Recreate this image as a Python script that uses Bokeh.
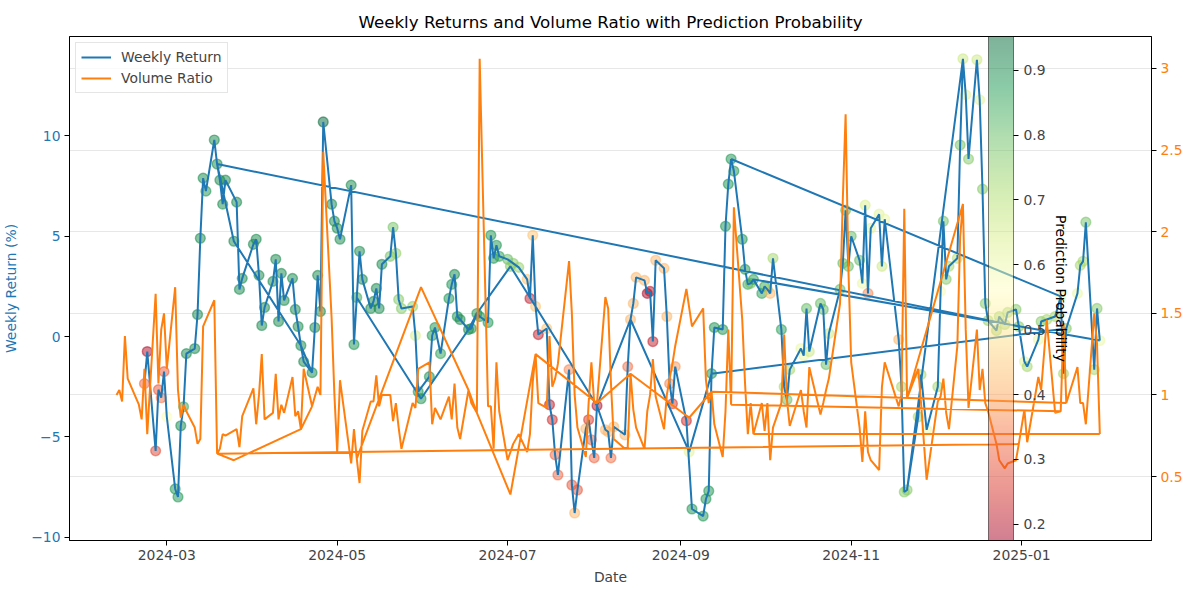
import numpy as np
import pandas as pd
from bokeh.plotting import figure
from bokeh.models import (Range1d, LinearAxis, FixedTicker, DatetimeTickFormatter, Grid,
                          LinearColorMapper, ColorBar, Label, ColumnDataSource,
                          CustomJSTickFormatter)
from bokeh.embed import file_html
from bokeh.resources import INLINE

nan = float("nan")

# ---------------- data ----------------
dates = [
    "2024-02-12", "2024-02-13", "2024-02-14", "2024-02-15", "2024-02-16", "2024-02-20", "2024-02-21",
    "2024-02-22", "2024-02-23", "2024-02-26", "2024-02-27", "2024-02-28", "2024-02-29",
    "2024-03-01", "2024-03-04", "2024-03-05", "2024-03-06", "2024-03-07", "2024-03-08", "2024-03-11",
    "2024-03-12", "2024-03-13", "2024-03-14", "2024-03-15", "2024-03-18", "2024-03-19", "2024-03-20",
    "2024-03-21", "2024-03-22", "2024-03-25", "2024-03-26", "2024-03-27", "2024-03-28",
    "2024-04-01", "2024-04-02", "2024-04-03", "2024-04-04", "2024-04-05", "2024-04-08", "2024-04-09",
    "2024-04-10", "2024-04-11", "2024-04-12", "2024-04-15", "2024-04-16", "2024-04-17", "2024-04-18",
    "2024-04-19", "2024-04-22", "2024-04-23", "2024-04-24", "2024-04-25", "2024-04-26", "2024-04-29",
    "2024-04-30",
    "2024-05-01", "2024-05-02", "2024-05-06", "2024-05-07", "2024-05-08", "2024-05-09", "2024-05-10",
    "2024-05-13", "2024-05-14", "2024-05-15", "2024-05-16", "2024-05-17", "2024-05-20", "2024-05-21",
    "2024-05-22", "2024-05-23", "2024-05-24", "2024-05-28", "2024-05-29", "2024-05-30", "2024-05-31",
    "2024-06-03", "2024-06-04", "2024-06-05", "2024-06-07", "2024-06-10", "2024-06-11", "2024-06-12",
    "2024-06-13", "2024-06-14", "2024-06-17", "2024-06-18", "2024-06-20", "2024-06-21", "2024-06-24",
    "2024-06-25", "2024-06-26", "2024-06-27", "2024-06-28",
    "2024-07-01", "2024-07-02", "2024-07-03", "2024-07-05", "2024-07-08", "2024-07-09", "2024-07-10",
    "2024-07-11", "2024-07-12", "2024-07-15", "2024-07-16", "2024-07-17", "2024-07-18", "2024-07-19",
    "2024-07-23", "2024-07-24", "2024-07-25", "2024-07-26", "2024-07-29", "2024-07-30", "2024-07-31",
    "2024-08-01", "2024-08-02", "2024-08-05", "2024-08-06", "2024-08-07", "2024-08-08", "2024-08-12",
    "2024-08-13", "2024-08-14", "2024-08-15", "2024-08-16", "2024-08-19", "2024-08-20", "2024-08-21",
    "2024-08-22", "2024-08-23", "2024-08-26", "2024-08-27", "2024-08-28", "2024-08-29", "2024-08-30",
    "2024-09-03", "2024-09-04", "2024-09-05", "2024-09-09", "2024-09-10", "2024-09-11", "2024-09-12",
    "2024-09-13", "2024-09-16", "2024-09-17", "2024-09-18", "2024-09-19", "2024-09-20", "2024-09-23",
    "2024-09-24", "2024-09-25", "2024-09-26", "2024-09-27", "2024-09-30",
    "2024-10-01", "2024-10-02", "2024-10-03", "2024-10-04", "2024-10-07", "2024-10-08", "2024-10-09",
    "2024-10-10", "2024-10-14", "2024-10-15", "2024-10-16", "2024-10-17", "2024-10-21", "2024-10-22",
    "2024-10-23", "2024-10-24", "2024-10-28", "2024-10-29", "2024-10-30", "2024-10-31",
    "2024-11-01", "2024-11-04", "2024-11-05", "2024-11-06", "2024-11-07", "2024-11-08", "2024-11-11",
    "2024-11-12", "2024-11-13", "2024-11-18", "2024-11-19", "2024-11-20", "2024-11-21", "2024-11-25",
    "2024-11-26", "2024-11-28",
    "2024-12-02", "2024-12-03", "2024-12-04", "2024-12-05", "2024-12-06", "2024-12-09", "2024-12-10",
    "2024-12-11", "2024-12-12", "2024-12-13", "2024-12-16", "2024-12-17", "2024-12-18", "2024-12-19",
    "2024-12-20", "2024-12-23", "2024-12-24", "2024-12-26", "2024-12-27", "2024-12-30", "2024-12-31",
    "2025-01-02", "2025-01-03", "2025-01-07", "2025-01-08", "2025-01-10", "2025-01-13", "2025-01-15",
    "2025-01-16", "2025-01-17", "2025-01-21", "2025-01-22", "2025-01-23", "2025-01-24", "2025-01-27",
    "2025-01-28", "2025-01-29",
]

weekly_return = [
    nan, nan, nan, nan, nan, nan, nan,
    -2.35, -0.75, -5.70, -2.65, -3.05, -1.75,
    -4.00, -7.60, -8.00, -4.45, -3.50, -0.85, -0.60,
    1.10, 4.90, 7.90, 7.25, 9.80, 8.60, 7.80,
    6.60, 7.80, 4.75, 6.70, 2.35, 2.90,
    4.60, 4.85, 3.05, 0.55, 1.45, 2.75, 3.85,
    0.75, 3.15, 1.80, 2.90, 1.35, 0.50, -0.45,
    -1.25, -1.80, 0.45, 3.05, 1.25, 10.70, 6.60,
    5.75,
    5.40, 4.85, 7.55, -0.40, 1.95, 4.25, 2.85,
    1.40, 1.75, 2.40, 1.40, 3.60, 4.00, 5.45,
    4.15, 1.85, 1.40, 1.50, 0.05, -2.75, -3.10,
    -2.00, 0.05, 0.45, -0.85, 1.90, 2.60, 3.10,
    1.00, 0.85, 0.35, 0.40, 1.15, 1.00, 0.70,
    5.05, 3.90, 4.55, 4.00,
    3.85, 3.50, 3.65, 3.45, 2.85, 1.90, 5.05,
    1.50, 0.10, 0.40, -3.40, -4.15, -5.90, -6.90,
    -1.65, -7.40, -8.80, -7.65, -4.60, -4.15, -5.15,
    -6.05, -3.45, -4.65, -4.75, -6.05, -4.50, -4.90,
    -1.50, 0.85, 1.65, 2.95, 2.80, 2.15, 2.25,
    -0.25, 3.80, 3.40, 1.00, -2.35, -3.35, -1.50,
    -4.20, -5.75, -8.60, -8.95, -8.10, -7.70, -1.85,
    0.45, 0.35, 5.50, 7.60, 8.85, 8.25, 4.85,
    3.35, 2.60, 2.65, 2.85, 2.15,
    2.50, 2.35, 2.15, 3.90, 0.35, -2.50, -3.15,
    -1.65, -0.60, -0.95, 1.40, -0.75, 1.65, 1.35,
    -1.40, 0.15, 2.35, 3.65, 6.30, 3.50,
    5.00, 3.80, 2.65, 6.55, 2.15, 5.40, 6.10,
    3.50, 5.85, -0.15, -2.50, -7.75, -7.65, -4.00,
    -1.90, -4.65,
    -2.50, 2.25, 5.75, 2.85, 3.50, 3.90, 9.55,
    13.85, 12.05, 8.85, 13.80, 11.80, 7.35, 1.65,
    0.80, 0.30, 1.00, 0.60, 1.20, 1.35, 0.50,
    -1.25, -1.50, -0.15, 0.75, 0.85, 1.00, 2.00,
    -1.85, 0.40, 2.15, 3.55, 3.75, 5.70, -1.65,
    1.40, -0.20,
]

prediction_probability = [
    nan, nan, nan, nan, nan, nan, nan,
    0.32, 0.19, 0.28, 0.30, 0.33, 0.30,
    0.57, 0.88, 0.88, 0.90, 0.84, 0.90, 0.90,
    0.90, 0.90, 0.90, 0.88, 0.90, 0.90, 0.90,
    0.90, 0.90, 0.90, 0.90, 0.90, 0.90,
    0.90, 0.90, 0.90, 0.90, 0.90, 0.90, 0.90,
    0.90, 0.90, 0.90, 0.90, 0.90, 0.90, 0.90,
    0.90, 0.90, 0.90, 0.90, 0.90, 0.952, 0.90,
    0.90,
    0.90, 0.90, 0.90, 0.88, 0.84, 0.90, 0.90,
    0.90, 0.90, 0.90, 0.90, 0.90, 0.78, 0.78,
    0.74, 0.76, 0.76, 0.74, 0.64, 0.88, 0.88,
    0.88, 0.88, 0.88, 0.86, 0.88, 0.88, 0.90,
    0.88, 0.90, 0.90, 0.88, 0.88, 0.88, 0.88,
    0.88, 0.88, 0.88, 0.86,
    0.80, 0.76, 0.76, 0.74, 0.44, 0.22, 0.44,
    0.44, 0.22, 0.44, 0.22, 0.24, 0.32, 0.32,
    0.36, 0.30, 0.42, 0.30, 0.42, 0.26, 0.32,
    0.32, 0.20, 0.42, 0.42, 0.33, 0.42, 0.42,
    0.33, 0.42, 0.42, 0.42, 0.42, 0.175, 0.20,
    0.22, 0.42, 0.42, 0.42, 0.36, 0.26, 0.38,
    0.24, 0.62, 0.88, 0.88, 0.88, 0.88, 0.88,
    0.88, 0.88, 0.88, 0.88, 0.88, 0.88, 0.88,
    0.88, 0.84, 0.78, 0.86, 0.86,
    0.84, 0.72, 0.42, 0.72, 0.86, 0.72, 0.80,
    0.72, 0.60, 0.60, 0.80, 0.66, 0.80, 0.80,
    0.80, 0.66, 0.80, 0.80, 0.80, 0.80,
    0.80, 0.80, 0.60, 0.64, 0.36, 0.62, 0.62,
    0.66, 0.60, 0.42, 0.72, 0.76, 0.76, 0.72,
    0.72, 0.60,
    0.72, 0.58, 0.78, 0.76, 0.72, 0.70, 0.78,
    0.66, 0.62, 0.76, 0.66, 0.62, 0.76, 0.76,
    0.74, 0.74, 0.74, 0.74, 0.74, 0.76, 0.76,
    0.62, 0.72, 0.60, 0.76, 0.72, 0.72, 0.60,
    0.72, 0.76, 0.60, 0.72, 0.72, 0.78, 0.72,
    0.76, 0.60,
]

volume_ratio = [
    1.00, 1.03, 0.96, 1.36, 1.10, 0.94, 0.85,
    1.16, 0.76, 1.62, 1.07, 1.40, 1.50,
    1.16, 1.66, 1.03, 0.86, 0.94, 0.90, 0.80,
    0.70, 0.73, 1.42, 1.46, 1.58, 0.64, 0.67,
    0.76, 0.75, 0.60, 0.79, 0.68, 0.87,
    1.04, 0.82, 1.00, 1.25, 0.85, 0.89, 1.13,
    0.85, 0.94, 0.89, 1.11, 0.87, 0.90, 0.79,
    1.16, 0.93, 0.99, 1.05, 1.00, 2.49, 1.47,
    1.00,
    0.65, 1.09, 0.58, 0.79, 0.61, 0.46, 0.78,
    0.96, 0.96, 1.12, 0.93, 1.00, 1.00, 0.84,
    0.95, 0.80, 0.67, 0.95, 0.92, 1.16, 1.66,
    1.20, 0.82, 0.92, 0.85, 0.99, 0.85, 1.07,
    0.80, 0.73, 1.03, 0.95, 0.89, 3.06, 0.93,
    0.93, 0.67, 1.20, 0.90,
    0.60, 0.39, 0.70, 0.76, 0.65, 0.76, 1.08,
    1.25, 0.95, 0.92, 1.36, 1.05, 1.10, 1.19,
    1.82, 1.50, 1.00, 0.80, 0.62, 0.95, 1.20,
    0.95, 0.95, 1.60, 1.53, 1.07, 0.73, 0.67,
    0.68, 1.13, 0.91, 0.80, 0.67, 0.90, 1.00,
    1.22, 0.99, 0.79, 1.00, 1.10, 1.19, 1.30,
    1.65, 0.86, 1.42, 1.53, 1.09, 0.95, 1.02,
    0.82, 0.62, 0.90, 1.40, 0.94, 2.15, 1.46,
    1.07, 0.76, 0.95, 0.76, 0.95,
    0.78, 0.95, 0.60, 0.80, 0.95, 1.37, 0.97,
    0.81, 1.03, 0.90, 0.80, 1.17, 0.88, 0.95,
    1.03, 1.10, 1.56, 2.20, 2.72, 1.77,
    1.20, 0.80, 0.59, 0.90, 0.65, 0.60, 0.54,
    1.05, 1.20, 0.93, 1.00, 2.14, 0.98, 1.16,
    0.95, 0.48,
    0.96, 0.99, 1.10, 0.89, 0.79, 1.30, 1.97,
    2.17, 1.40, 0.92, 1.40, 1.03, 1.16, 0.95,
    0.90, 0.70, 0.60, 0.55, 0.58, 0.60, 0.70,
    0.91, 0.71, 1.11, 1.03, 1.46, 0.89, 0.90,
    1.44, 0.95, 1.17, 0.95, 0.95, 0.82, 1.50,
    1.31, 0.76,
]

# rows that the plotted series visits in separate runs (the data are not in date order)
rows_outside_main_run = ["2024-03-25", "2024-05-31", "2024-07-02", "2024-09-04"]
side_runs = [
    ["2024-03-19", "2024-03-25", "2024-04-18", "2024-04-22"],
    ["2024-05-08", "2024-05-31", "2024-06-17", "2024-06-20", "2024-07-02", "2024-07-11",
     "2024-08-02", "2024-08-14", "2024-09-04", "2024-09-12"],
]
jumps = [
    ("2024-03-19", "2024-12-31"),
    ("2024-09-19", "2025-01-15"),
    ("2024-09-12", "2025-01-17"),
    ("2024-09-27", "2025-01-29"),
    ("2024-11-21", "2024-12-11"),
]

x_tick_labels = ["2024-03", "2024-05", "2024-07", "2024-09", "2024-11", "2025-01"]
return_ticks = [-10, -5, 0, 5, 10]
volume_ticks = [0.5, 1.0, 1.5, 2.0, 2.5, 3.0]
probability_ticks = [0.2, 0.3, 0.4, 0.5, 0.6, 0.7, 0.8, 0.9]

# ---------------- build sources ----------------
df = pd.DataFrame({"ret": weekly_return, "prob": prediction_probability,
                   "vol": volume_ratio}, index=dates)

main_run = [d for d in dates if d not in rows_outside_main_run]
pieces = [main_run] + side_runs + [list(j) for j in jumps]
lx, lr, lv = [], [], []
for k, piece in enumerate(pieces):
    if k:
        lx.append(piece[0]); lr.append(nan); lv.append(nan)
    for d in piece:
        lx.append(d); lr.append(df.loc[d, "ret"]); lv.append(df.loc[d, "vol"])
line_src = ColumnDataSource(dict(x=pd.to_datetime(lx).values, ret=lr, vol=lv))

pts = df.dropna(subset=["ret", "prob"])
pt_src = ColumnDataSource(dict(x=pd.to_datetime(pts.index).values,
                               ret=pts["ret"].values, prob=pts["prob"].values))

# RdYlGn colormap (matplotlib anchors)
anchors = ["#a50026", "#d73027", "#f46d43", "#fdae61", "#fee08b", "#ffffbf",
           "#d9ef8b", "#a6d96a", "#66bd63", "#1a9850", "#006837"]
A = np.array([[int(h[i:i + 2], 16) for i in (1, 3, 5)] for h in anchors], float)
pos = np.linspace(0, 1, len(anchors))
tt = np.linspace(0, 1, 256)
cols = np.stack([np.interp(tt, pos, A[:, c]) for c in range(3)], 1)
palette = ["#%02x%02x%02x" % tuple(int(round(v)) for v in c) for c in cols]
mapper = LinearColorMapper(palette=palette, low=float(np.nanmin(pts["prob"])),
                           high=float(np.nanmax(pts["prob"])))

# ---------------- figure ----------------
FW, FH = 1082, 504
x0 = pd.Timestamp("2024-01-26 04:00")
x1 = pd.Timestamp("2025-02-16 12:00")
FONT = "DejaVu Sans"
FS = "13.9px"
ALPHA = 0.5

p = figure(frame_width=FW, frame_height=FH, x_axis_type="datetime",
           x_range=Range1d(x0.to_pydatetime(), x1.to_pydatetime()),
           y_range=Range1d(-10.17, 14.96),
           output_backend="svg", toolbar_location=None,
           min_border_left=66, min_border_right=30, min_border_top=36, min_border_bottom=44,
           title="Weekly Returns and Volume Ratio with Prediction Probability")
p.extra_y_ranges = {"vol": Range1d(0.108, 3.196)}
p.xgrid.visible = False
p.ygrid.visible = False
p.outline_line_color = "black"
p.outline_line_width = 1
p.background_fill_color = "white"
p.border_fill_color = "white"

p.title.align = "center"
p.title.text_font = FONT
p.title.text_font_style = "normal"
p.title.text_font_size = "16.7px"
p.title.text_color = "black"

# grid at volume-ratio ticks
p.add_layout(Grid(dimension=1, ticker=FixedTicker(ticks=volume_ticks), y_range_name="vol",
                  grid_line_color="#b0b0b0", grid_line_alpha=0.3, grid_line_width=1))

# scatter coloured by probability
p.scatter(x="x", y="ret", source=pt_src, size=9.8,
          fill_color={"field": "prob", "transform": mapper},
          line_color={"field": "prob", "transform": mapper},
          fill_alpha=ALPHA, line_alpha=ALPHA, line_width=1.4)

p.line(x="x", y="ret", source=line_src, color="#1f77b4", line_width=2,
       legend_label="Weekly Return")
p.line(x="x", y="vol", source=line_src, color="#ff7f0e", line_width=2,
       y_range_name="vol", legend_label="Volume Ratio")

# axes
minus = CustomJSTickFormatter(code="return String(tick).replace('-', '\u2212');")
xa = p.xaxis[0]
xa.ticker = FixedTicker(ticks=[pd.Timestamp(s + "-01").value / 1e6 for s in x_tick_labels])
xa.formatter = DatetimeTickFormatter(days="%Y-%m", months="%Y-%m", years="%Y-%m")
xa.axis_label = "Date"
ya = p.yaxis[0]
ya.ticker = FixedTicker(ticks=return_ticks)
ya.formatter = minus
ya.axis_label = "Weekly Return (%)"
ya.axis_label_text_color = "#1f77b4"
ya.major_label_text_color = "#1f77b4"

ra = LinearAxis(y_range_name="vol", ticker=FixedTicker(ticks=volume_ticks))
ra.major_label_text_color = "#ff7f0e"
p.add_layout(ra, "right")

for ax in (xa, ya, ra):
    ax.axis_line_color = "black"
    ax.major_tick_line_color = "black"
    ax.major_tick_in = 0
    ax.major_tick_out = 5
    ax.minor_tick_line_color = None
    ax.major_label_text_font = FONT
    ax.major_label_text_font_size = FS
    ax.axis_label_text_font = FONT
    ax.axis_label_text_font_size = FS
    ax.axis_label_text_font_style = "normal"
    ax.major_label_standoff = 4
xa.axis_label_standoff = 6
ya.axis_label_standoff = 9

# legend
lg = p.legend[0]
lg.location = "top_left"
lg.label_text_font = FONT
lg.label_text_font_size = FS
lg.border_line_color = "#cccccc"
lg.border_line_width = 1
lg.background_fill_alpha = 0.8
lg.glyph_width = 30
lg.glyph_height = 18
lg.label_height = 18
lg.label_standoff = 10
lg.padding = 5
lg.spacing = 3
lg.margin = 6

# colour bar (sits over the plotting area, like the reference)
cb_left = int(round(0.8495 * FW))
cb = ColorBar(color_mapper=mapper, location=(cb_left, 0), orientation="vertical",
              width=25, height=FH, padding=0, ticker=FixedTicker(ticks=probability_ticks),
              scale_alpha=ALPHA, major_label_text_font=FONT, major_label_text_font_size=FS,
              major_tick_line_color="black", major_tick_in=0, major_tick_out=5,
              minor_tick_line_color=None, bar_line_color="black", bar_line_width=1,
              background_fill_color=None, border_line_color=None, label_standoff=5)
p.add_layout(cb)

ms0, ms1 = x0.value / 1e6, x1.value / 1e6
lab_x = ms0 + (cb_left + 72) / FW * (ms1 - ms0)
p.add_layout(Label(x=lab_x, y=(-10.17 + 14.96) / 2, text="Prediction Probability",
                   angle=-np.pi / 2, text_align="center", text_baseline="middle",
                   text_font=FONT, text_font_size=FS, text_color="black"))

open("out.html", "w").write(file_html(p, INLINE))
